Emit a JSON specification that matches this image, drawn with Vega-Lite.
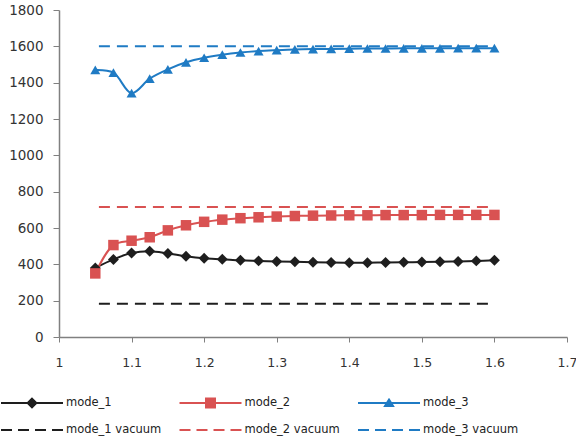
{
  "$schema": "https://vega.github.io/schema/vega-lite/v6.json",
  "autosize": "none",
  "width": 508,
  "height": 327,
  "padding": {"left": 59, "top": 10, "right": 9, "bottom": 106},
  "background": "white",
  "config": {"view": {"stroke": null}},
  "datasets": {
    "pts": [
      {"x": 1.05, "y": 380, "series": "mode_1"}, {"x": 1.075, "y": 427, "series": "mode_1"}, {"x": 1.1, "y": 462, "series": "mode_1"}, {"x": 1.125, "y": 472, "series": "mode_1"}, {"x": 1.15, "y": 460, "series": "mode_1"}, {"x": 1.175, "y": 444, "series": "mode_1"}, {"x": 1.2, "y": 433, "series": "mode_1"}, {"x": 1.225, "y": 428, "series": "mode_1"}, {"x": 1.25, "y": 422, "series": "mode_1"}, {"x": 1.275, "y": 419, "series": "mode_1"}, {"x": 1.3, "y": 416, "series": "mode_1"}, {"x": 1.325, "y": 414, "series": "mode_1"}, {"x": 1.35, "y": 412, "series": "mode_1"}, {"x": 1.375, "y": 410, "series": "mode_1"}, {"x": 1.4, "y": 409, "series": "mode_1"}, {"x": 1.425, "y": 409, "series": "mode_1"}, {"x": 1.45, "y": 410, "series": "mode_1"}, {"x": 1.475, "y": 411, "series": "mode_1"}, {"x": 1.5, "y": 413, "series": "mode_1"}, {"x": 1.525, "y": 414, "series": "mode_1"}, {"x": 1.55, "y": 416, "series": "mode_1"}, {"x": 1.575, "y": 419, "series": "mode_1"}, {"x": 1.6, "y": 422, "series": "mode_1"},
      {"x": 1.05, "y": 350, "series": "mode_2"}, {"x": 1.075, "y": 506, "series": "mode_2"}, {"x": 1.1, "y": 530, "series": "mode_2"}, {"x": 1.125, "y": 549, "series": "mode_2"}, {"x": 1.15, "y": 587, "series": "mode_2"}, {"x": 1.175, "y": 615, "series": "mode_2"}, {"x": 1.2, "y": 634, "series": "mode_2"}, {"x": 1.225, "y": 646, "series": "mode_2"}, {"x": 1.25, "y": 654, "series": "mode_2"}, {"x": 1.275, "y": 659, "series": "mode_2"}, {"x": 1.3, "y": 663, "series": "mode_2"}, {"x": 1.325, "y": 666, "series": "mode_2"}, {"x": 1.35, "y": 668, "series": "mode_2"}, {"x": 1.375, "y": 669, "series": "mode_2"}, {"x": 1.4, "y": 670, "series": "mode_2"}, {"x": 1.425, "y": 670, "series": "mode_2"}, {"x": 1.45, "y": 671, "series": "mode_2"}, {"x": 1.475, "y": 671, "series": "mode_2"}, {"x": 1.5, "y": 671, "series": "mode_2"}, {"x": 1.525, "y": 672, "series": "mode_2"}, {"x": 1.55, "y": 672, "series": "mode_2"}, {"x": 1.575, "y": 672, "series": "mode_2"}, {"x": 1.6, "y": 672, "series": "mode_2"},
      {"x": 1.05, "y": 1470, "series": "mode_3"}, {"x": 1.075, "y": 1455, "series": "mode_3"}, {"x": 1.1, "y": 1342, "series": "mode_3"}, {"x": 1.125, "y": 1422, "series": "mode_3"}, {"x": 1.15, "y": 1473, "series": "mode_3"}, {"x": 1.175, "y": 1512, "series": "mode_3"}, {"x": 1.2, "y": 1537, "series": "mode_3"}, {"x": 1.225, "y": 1554, "series": "mode_3"}, {"x": 1.25, "y": 1566, "series": "mode_3"}, {"x": 1.275, "y": 1574, "series": "mode_3"}, {"x": 1.3, "y": 1579, "series": "mode_3"}, {"x": 1.325, "y": 1583, "series": "mode_3"}, {"x": 1.35, "y": 1585, "series": "mode_3"}, {"x": 1.375, "y": 1586, "series": "mode_3"}, {"x": 1.4, "y": 1587, "series": "mode_3"}, {"x": 1.425, "y": 1588, "series": "mode_3"}, {"x": 1.45, "y": 1588, "series": "mode_3"}, {"x": 1.475, "y": 1589, "series": "mode_3"}, {"x": 1.5, "y": 1589, "series": "mode_3"}, {"x": 1.525, "y": 1589, "series": "mode_3"}, {"x": 1.55, "y": 1590, "series": "mode_3"}, {"x": 1.575, "y": 1590, "series": "mode_3"}, {"x": 1.6, "y": 1590, "series": "mode_3"}
    ],
    "vac": [
      {"x": 1.055, "y": 183, "series": "mode_1 vacuum"}, {"x": 1.6, "y": 183, "series": "mode_1 vacuum"},
      {"x": 1.055, "y": 715, "series": "mode_2 vacuum"}, {"x": 1.6, "y": 715, "series": "mode_2 vacuum"},
      {"x": 1.055, "y": 1600, "series": "mode_3 vacuum"}, {"x": 1.6, "y": 1600, "series": "mode_3 vacuum"}
    ]
  },
  "encoding": {
    "x": {
      "field": "x", "type": "quantitative",
      "scale": {"domain": [1, 1.7], "nice": false, "zero": false},
      "axis": {"title": null, "values": [1, 1.1, 1.2, 1.3, 1.4, 1.5, 1.6, 1.7], "format": ".1~f", "grid": false,
        "domainColor": "#808080", "domainWidth": 1.5, "tickColor": "#808080", "tickSize": 5, "tickWidth": 1,
        "labelFont": "DejaVu Sans", "labelFontSize": 12.5, "labelColor": "#333333", "labelPadding": 14, "labelFlush": false, "labelOverlap": false}
    },
    "y": {
      "field": "y", "type": "quantitative",
      "scale": {"domain": [0, 1800], "nice": false},
      "axis": {"title": null, "values": [0, 200, 400, 600, 800, 1000, 1200, 1400, 1600, 1800], "format": "d", "grid": false,
        "domainColor": "#808080", "domainWidth": 1.5, "tickColor": "#808080", "tickSize": 6, "tickWidth": 1,
        "labelFont": "DejaVu Sans", "labelFontSize": 13.5, "labelColor": "#333333", "labelPadding": 10, "labelFlush": false, "labelOverlap": false}
    },
    "color": {
      "field": "series", "type": "nominal",
      "scale": {
        "domain": ["mode_1", "mode_2", "mode_3", "mode_1 vacuum", "mode_2 vacuum", "mode_3 vacuum"],
        "range": ["#1e1e1e", "#d95252", "#1f7bc4", "#1e1e1e", "#d95252", "#1f7bc4"]
      },
      "legend": {
        "orient": "none", "legendX": -59, "legendY": 385, "columns": 3, "direction": "horizontal", "title": null,
        "symbolSize": 3844, "symbolStrokeWidth": 2, "symbolOffset": 0, "labelOffset": 2,
        "labelFont": "DejaVu Sans", "labelFontSize": 11.5, "labelColor": "#222222",
        "columnPadding": 16.5, "rowPadding": 11, "clipHeight": 16,
        "encode": {
          "symbols": {
            "update": {
              "shape": {"signal": "datum.value == 'mode_1' ? 'M-1,0H1M0,-0.14L0.14,0L0,0.14L-0.14,0Z' : datum.value == 'mode_2' ? 'M-1,0H1M-0.145,-0.145H0.145V0.145H-0.145Z' : datum.value == 'mode_3' ? 'M-1,0H1M0,-0.11L0.13,0.1L-0.13,0.1Z' : 'M-1,0H-0.645M-0.452,0H-0.097M0.097,0H0.452M0.645,0H1'"},
              "fill": {"signal": "scale('color', datum.value)"},
              "stroke": {"signal": "scale('color', datum.value)"},
              "strokeWidth": {"value": 2},
              "opacity": {"value": 1}
            }
          }
        }
      }
    }
  },
  "layer": [
    {
      "data": {"name": "vac"},
      "mark": {"type": "line", "strokeWidth": 2, "strokeDash": [11, 7]}
    },
    {
      "data": {"name": "pts"},
      "mark": {"type": "line", "strokeWidth": 2, "interpolate": "catmull-rom"}
    },
    {
      "data": {"name": "pts"},
      "mark": {"type": "point", "filled": true, "opacity": 1},
      "encoding": {
        "shape": {"field": "series", "type": "nominal", "legend": null,
          "scale": {"domain": ["mode_1", "mode_2", "mode_3"], "range": ["diamond", "square", "triangle-up"]}},
        "size": {"field": "series", "type": "nominal", "legend": null,
          "scale": {"domain": ["mode_1", "mode_2", "mode_3"], "range": [120, 100, 85]}}
      }
    }
  ]
}
